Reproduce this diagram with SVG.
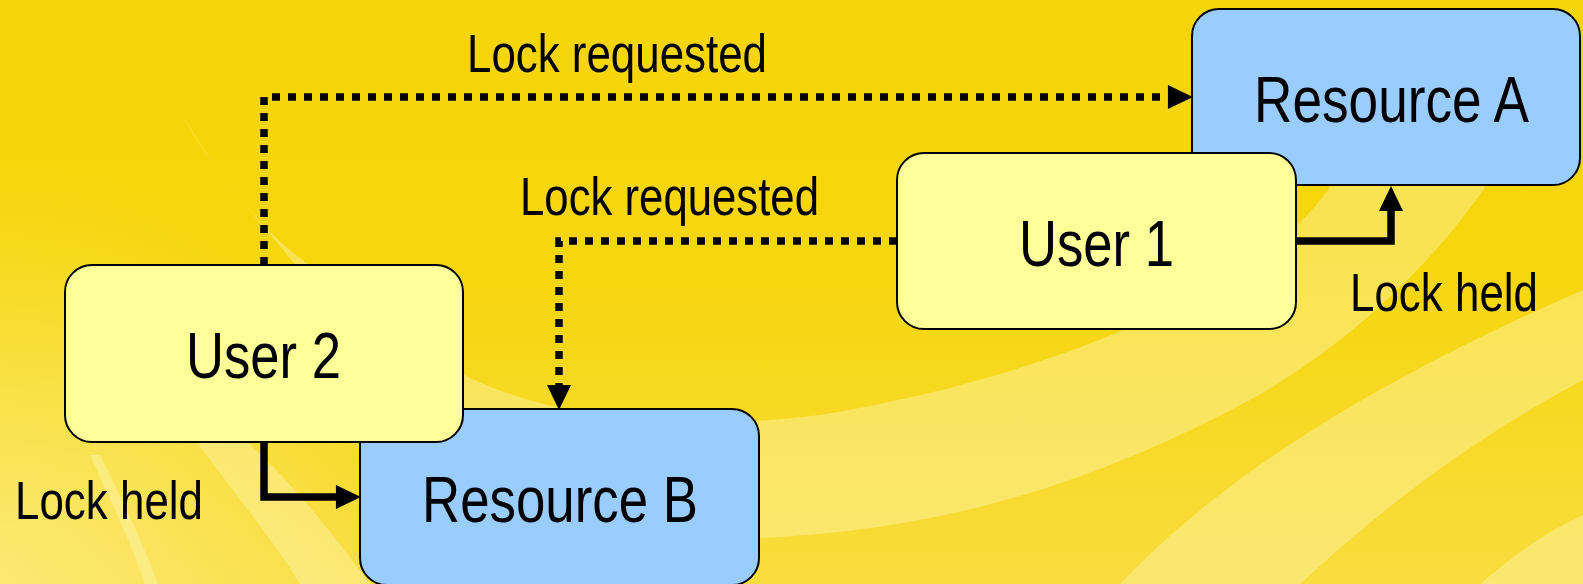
<svg xmlns="http://www.w3.org/2000/svg" width="1583" height="584" viewBox="0 0 1583 584">
<style>
.user{fill:#FFFF99;stroke:#000;stroke-width:2}
.res{fill:#99CCFF;stroke:#000;stroke-width:2}
.node{font-family:"Liberation Sans Narrow","Liberation Sans",Arial,sans-serif;font-size:64px;fill:#000}
.lbl{font-family:"Liberation Sans Narrow","Liberation Sans",Arial,sans-serif;font-size:53px;fill:#000}
.dot{fill:none;stroke:#000;stroke-width:7.5;stroke-dasharray:8 8}
.solid{fill:none;stroke:#000;stroke-width:7.5}
.band{fill:#FFF6B8;opacity:0.42}
</style>
<defs>
<linearGradient id="bg" x1="0" y1="0" x2="0" y2="1">
<stop offset="0" stop-color="#F6D50A"/>
<stop offset="0.45" stop-color="#F6D60C"/>
<stop offset="1" stop-color="#F8DD3E"/>
</linearGradient>
<radialGradient id="glowL" cx="0" cy="584" r="420" gradientUnits="userSpaceOnUse">
<stop offset="0" stop-color="#FFF3A0" stop-opacity="0.55"/>
<stop offset="1" stop-color="#FFF3A0" stop-opacity="0"/>
</radialGradient>
<marker id="ah" markerUnits="userSpaceOnUse" markerWidth="26" markerHeight="24" viewBox="0 0 24 23" refX="2" refY="11.5" orient="auto">
<path d="M0 0 L24 11.5 L0 23 Z" fill="#000"/>
</marker>
</defs>
<g id="background">
<rect x="0" y="0" width="1583" height="584" fill="url(#bg)"/>
<rect x="0" y="0" width="1583" height="584" fill="url(#glowL)"/>
<path class="band" d="M178 108 C215 170 255 225 305 262 C360 305 420 350 470 378 C560 420 680 432 820 415 C1000 385 1150 330 1250 262 C1290 235 1315 210 1335 180 L1490 180 C1430 270 1340 350 1250 400 C1100 480 950 530 760 538 C600 530 450 460 380 400 C340 360 315 320 298 268 C260 222 212 170 178 108 Z"/>
<path class="band" d="M1120 584 C1200 500 1330 400 1583 290 L1583 380 C1470 440 1380 510 1300 584 Z"/>
<path class="band" d="M1480 584 C1520 550 1550 530 1583 515 L1583 584 Z"/>
<path class="band" d="M195 440 C240 500 280 550 300 584 L370 584 C330 530 290 480 245 440 Z"/>
<path class="band" d="M90 455 C110 500 130 540 145 584 L158 584 C142 540 122 500 100 455 Z"/>
</g>
<g id="resource-a">
<rect class="res" x="1192" y="9" width="388" height="176" rx="27" ry="27"/>
<text class="node" x="1254" y="122" textLength="275" lengthAdjust="spacingAndGlyphs">Resource A</text>
</g>
<g id="user-1">
<rect class="user" x="897" y="153" width="399" height="176" rx="27" ry="27"/>
<text class="node" x="1019" y="266" textLength="155" lengthAdjust="spacingAndGlyphs">User 1</text>
</g>
<g id="resource-b">
<rect class="res" x="360" y="409" width="399" height="176" rx="27" ry="27"/>
<text class="node" x="422" y="522" textLength="276" lengthAdjust="spacingAndGlyphs">Resource B</text>
</g>
<g id="user-2">
<rect class="user" x="65" y="265" width="398" height="177" rx="27" ry="27"/>
<text class="node" x="186" y="378" textLength="155" lengthAdjust="spacingAndGlyphs">User 2</text>
</g>
<g id="connectors">
<path class="dot" d="M264 265 V97 H1170" marker-end="url(#ah)"/>
<path class="dot" d="M897 241 H559 V387" marker-end="url(#ah)"/>
<path class="solid" d="M1296 241 H1391 V209" marker-end="url(#ah)"/>
<path class="solid" d="M264 442 V497 H338" marker-end="url(#ah)"/>
</g>
<g id="labels">
<text class="lbl" x="467" y="72" textLength="300" lengthAdjust="spacingAndGlyphs">Lock requested</text>
<text class="lbl" x="520" y="215" textLength="299" lengthAdjust="spacingAndGlyphs">Lock requested</text>
<text class="lbl" x="15" y="519" textLength="188" lengthAdjust="spacingAndGlyphs">Lock held</text>
<text class="lbl" x="1350" y="311" textLength="188" lengthAdjust="spacingAndGlyphs">Lock held</text>
</g>
</svg>
